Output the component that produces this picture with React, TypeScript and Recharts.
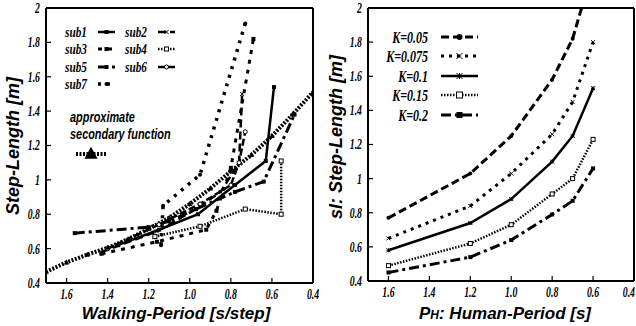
import React from "react";
import { LineChart, Line, XAxis, YAxis } from "recharts";

// Two gnuplot-style panels: step length vs. period, axis running right-to-left.

const PERIOD_TICKS = [1.6, 1.4, 1.2, 1.0, 0.8, 0.6, 0.4];
const LENGTH_TICKS = [0.4, 0.6, 0.8, 1.0, 1.2, 1.4, 1.6, 1.8, 2.0];

// left panel: measured subjects + fitted curve
const approxPeriod = [1.7, 1.6, 1.5, 1.4, 1.3, 1.2, 1.1, 1.0, 0.9, 0.8, 0.7, 0.6, 0.5, 0.4];
const approxLength = [0.465, 0.52, 0.565, 0.605, 0.655, 0.715, 0.78, 0.86, 0.95, 1.05, 1.145, 1.255, 1.38, 1.51];

const sub1Period = [1.35, 1.15, 0.96, 0.78, 0.63, 0.59];
const sub1Length = [0.62, 0.71, 0.8, 0.97, 1.11, 1.54];
const sub2Period = [1.43, 1.16, 0.97, 0.85, 0.76, 0.745];
const sub2Length = [0.58, 0.7, 0.83, 0.93, 1.1, 1.5];
const sub3Period = [1.43, 1.16, 0.92, 0.87, 0.8, 0.69];
const sub3Length = [0.57, 0.64, 0.71, 0.82, 1.07, 1.82];
const sub4Period = [1.17, 0.95, 0.73, 0.555, 0.555];
const sub4Length = [0.67, 0.73, 0.83, 0.8, 1.11];
const sub5Period = [1.56, 1.2, 1.1, 0.97, 0.78, 0.64, 0.49];
const sub5Length = [0.69, 0.725, 0.76, 0.83, 0.93, 0.99, 1.38];
const sub6Period = [1.4, 1.15, 0.95, 0.8, 0.76, 0.73];
const sub6Length = [0.6, 0.74, 0.86, 0.97, 1.1, 1.28];
const sub7Period = [1.14, 1.13, 0.95, 0.73];
const sub7Length = [0.62, 0.85, 1.03, 1.91];

// right panel: model for several K
const humanPeriod = [1.6, 1.2, 1.0, 0.8, 0.7, 0.6];
const k005Length = [0.77, 1.03, 1.25, 1.58, 1.82, 2.23];
const k0075Length = [0.65, 0.84, 1.03, 1.26, 1.45, 1.8];
const k01Length = [0.58, 0.74, 0.88, 1.1, 1.25, 1.53];
const k015Length = [0.49, 0.62, 0.73, 0.91, 1.0, 1.23];
const k02Length = [0.45, 0.54, 0.64, 0.79, 0.87, 1.06];

type MarkerKind = "square" | "openSquare" | "cross" | "plus" | "circle" | "dot" | "triangle" | "star";

type Series = {
  name: string;
  xs: number[];
  ys: number[];
  dash?: string;
  width: number;
  marker: MarkerKind;
  size?: number;
};

const zip = (xs: number[], ys: number[]) => xs.map((x, i) => ({ x, y: ys[i] }));

const LEFT_SERIES: Series[] = [
  { name: "sub1", xs: sub1Period, ys: sub1Length, width: 2.5, marker: "square" },
  { name: "sub2", xs: sub2Period, ys: sub2Length, dash: "8 4", width: 2.5, marker: "cross" },
  { name: "sub3", xs: sub3Period, ys: sub3Length, dash: "4 6", width: 3, marker: "square" },
  { name: "sub4", xs: sub4Period, ys: sub4Length, dash: "1.5 1.5", width: 2.5, marker: "openSquare" },
  { name: "sub5", xs: sub5Period, ys: sub5Length, dash: "10 4 3 4", width: 3, marker: "square" },
  { name: "sub6", xs: sub6Period, ys: sub6Length, dash: "7 3", width: 2.5, marker: "circle" },
  { name: "sub7", xs: sub7Period, ys: sub7Length, dash: "3 6", width: 3.5, marker: "dot" },
];

const APPROX: Series = {
  name: "approximate secondary function",
  xs: approxPeriod,
  ys: approxLength,
  dash: "2 1.5",
  width: 4,
  marker: "triangle",
  size: 2.5,
};

const RIGHT_SERIES: Series[] = [
  { name: "K=0.05", xs: humanPeriod, ys: k005Length, dash: "8 4", width: 3, marker: "dot" },
  { name: "K=0.075", xs: humanPeriod, ys: k0075Length, dash: "3 5", width: 3, marker: "cross" },
  { name: "K=0.1", xs: humanPeriod, ys: k01Length, width: 2.5, marker: "star" },
  { name: "K=0.15", xs: humanPeriod, ys: k015Length, dash: "1.5 1.5", width: 2.5, marker: "openSquare" },
  { name: "K=0.2", xs: humanPeriod, ys: k02Length, dash: "10 4 3 4", width: 3, marker: "square" },
];

function Marker({ kind, cx, cy, s = 2 }: { kind: MarkerKind; cx: number; cy: number; s?: number }) {
  const st = { stroke: "#000", strokeWidth: 1 };
  switch (kind) {
    case "square":
      return <rect x={cx - s} y={cy - s} width={s * 2} height={s * 2} fill="#000" />;
    case "openSquare":
      return <rect x={cx - s} y={cy - s} width={s * 2} height={s * 2} fill="#fff" {...st} />;
    case "circle":
      return <circle cx={cx} cy={cy} r={s} fill="#fff" {...st} />;
    case "dot":
      return <circle cx={cx} cy={cy} r={s} fill="#000" />;
    case "cross":
      return <path d={`M${cx - s},${cy - s}L${cx + s},${cy + s}M${cx - s},${cy + s}L${cx + s},${cy - s}`} {...st} />;
    case "plus":
      return <path d={`M${cx - s},${cy}L${cx + s},${cy}M${cx},${cy - s}L${cx},${cy + s}`} {...st} />;
    case "star":
      return (
        <path
          d={`M${cx - s},${cy}L${cx + s},${cy}M${cx},${cy - s}L${cx},${cy + s}M${cx - s},${cy - s}L${cx + s},${cy + s}M${cx - s},${cy + s}L${cx + s},${cy - s}`}
          {...st}
        />
      );
    case "triangle":
      return <path d={`M${cx},${cy - s * 1.2}L${cx + s * 1.1},${cy + s * 0.8}L${cx - s * 1.1},${cy + s * 0.8}Z`} fill="#000" />;
  }
  return null;
}

const fmtPeriod = (v: number) => v.toFixed(1);
const fmtLength = (v: number) => (Number.isInteger(Math.round(v * 100) / 100) ? String(Math.round(v)) : v.toFixed(1));

// Labels in narrow Times bold italic, squeezed horizontally like the original.
function NarrowTick(props: any) {
  const { x, y, payload, textAnchor, fmt, vertical, maxX } = props;
  // keep the last label inside the picture
  const anchor = maxX !== undefined && x + 7 > maxX ? "end" : textAnchor;
  const tx = anchor !== textAnchor ? maxX - 1 : x;
  return (
    <text
      transform={`translate(${tx},${y}) scale(0.7,1)`}
      textAnchor={anchor}
      dy={vertical ? "0.35em" : "0.75em"}
      fontFamily="Liberation Serif"
      fontStyle="italic"
      fontWeight="bold"
      fontSize={14}
      fill="#000"
    >
      {fmt(payload.value)}
    </text>
  );
}

const AXIS_LINE = { stroke: "#000", strokeWidth: 2 };
const TICK_LINE = { stroke: "#000", strokeWidth: 1.2 };

function renderLine(s: Series) {
  return (
    <Line
      key={s.name}
      data={zip(s.xs, s.ys)}
      dataKey="y"
      xAxisId="b"
      yAxisId="l"
      type="linear"
      stroke="#000"
      strokeWidth={s.width}
      strokeDasharray={s.dash}
      strokeLinecap="butt"
      dot={(p: any) => (
        <g key={`${s.name}-${p.index}`}>
          <Marker kind={s.marker} cx={p.cx} cy={p.cy} s={s.size ?? 2} />
        </g>
      )}
      activeDot={false}
      isAnimationActive={false}
    />
  );
}

function Panel({ series, width, yWidth, marginRight, xHeight }: {
  series: Series[];
  width: number;
  yWidth: number;
  marginRight: number;
  xHeight: number;
}) {
  return (
    <LineChart width={width} height={326} margin={{ top: 7, right: marginRight, bottom: 0, left: 0 }}>
      <XAxis
        xAxisId="b"
        type="number"
        dataKey="x"
        domain={[0.4, 1.7]}
        reversed
        ticks={PERIOD_TICKS}
        allowDataOverflow
        height={xHeight}
        axisLine={AXIS_LINE}
        tickLine={TICK_LINE}
        tickSize={-5}
        tickMargin={10}
        interval={0}
        tick={(p: any) => <NarrowTick {...p} fmt={fmtPeriod} maxX={width} />}
      />
      <XAxis
        xAxisId="t"
        orientation="top"
        type="number"
        domain={[0.4, 1.7]}
        reversed
        ticks={PERIOD_TICKS}
        allowDataOverflow
        height={1}
        axisLine={AXIS_LINE}
        tickLine={TICK_LINE}
        tickSize={-5}
        interval={0}
        tick={false}
      />
      <YAxis
        yAxisId="l"
        type="number"
        domain={[0.4, 2]}
        ticks={LENGTH_TICKS}
        allowDataOverflow
        width={yWidth}
        axisLine={AXIS_LINE}
        tickLine={TICK_LINE}
        tickSize={-5}
        tickMargin={11}
        interval={0}
        tick={(p: any) => <NarrowTick {...p} fmt={fmtLength} vertical />}
      />
      <YAxis
        yAxisId="r"
        orientation="right"
        type="number"
        domain={[0.4, 2]}
        ticks={LENGTH_TICKS}
        allowDataOverflow
        width={1}
        axisLine={AXIS_LINE}
        tickLine={TICK_LINE}
        tickSize={-5}
        interval={0}
        tick={false}
      />
      {series.map(renderLine)}
    </LineChart>
  );
}

function LegendSample({ s, x1, x2, y, markerSize }: { s: Series; x1: number; x2: number; y: number; markerSize?: number }) {
  return (
    <g>
      <line x1={x1} x2={x2} y1={y} y2={y} stroke="#000" strokeWidth={s.width} strokeDasharray={s.dash} />
      <Marker kind={s.marker} cx={(x1 + x2) / 2} cy={y} s={markerSize ?? 2} />
    </g>
  );
}

function SerifLabel({ x, y, text, anchor = "start", size = 15 }: { x: number; y: number; text: string; anchor?: string; size?: number }) {
  return (
    <text
      transform={`translate(${x},${y}) scale(0.75,1)`}
      textAnchor={anchor}
      dy="0.35em"
      fontFamily="Liberation Serif"
      fontStyle="italic"
      fontWeight="bold"
      fontSize={size}
      fill="#000"
    >
      {text}
    </text>
  );
}

const TITLE_FONT = { fontFamily: "Liberation Sans", fontStyle: "italic", fontWeight: "bold", fill: "#000" } as const;

function Overlay() {
  const leftCols = [
    [0, 2, 4, 6],
    [1, 3, 5],
  ];
  const rowY = [32, 49, 67, 84];
  const rightRows = [37, 56, 76, 95, 115];
  return (
    <svg width={636} height={326} style={{ position: "absolute", left: 0, top: 0, pointerEvents: "none" }}>
      {leftCols.map((col, ci) =>
        col.map((idx, ri) => {
          const s = LEFT_SERIES[idx];
          const tx = ci === 0 ? 65 : 125;
          return (
            <g key={s.name}>
              <SerifLabel x={tx} y={rowY[ri]} text={s.name} size={15} />
              <LegendSample s={s} x1={tx + 33} x2={tx + 50} y={rowY[ri]} />
            </g>
          );
        })
      )}
      <text transform="translate(70,122) scale(0.78,1)" {...TITLE_FONT} fontSize={14}>
        approximate
      </text>
      <text transform="translate(70,139) scale(0.78,1)" {...TITLE_FONT} fontSize={14}>
        secondary function
      </text>
      <LegendSample s={APPROX} x1={76} x2={106} y={154} markerSize={6} />

      {RIGHT_SERIES.map((s, i) => (
        <g key={s.name}>
          <SerifLabel x={428} y={rightRows[i]} text={s.name} anchor="end" size={16} />
          <LegendSample s={s} x1={441} x2={478} y={rightRows[i]} markerSize={3} />
        </g>
      ))}

      <text x={176} y={319} textAnchor="middle" fontSize={17} {...TITLE_FONT}>
        Walking-Period [s/step]
      </text>
      <text transform="translate(19,146) rotate(-90)" textAnchor="middle" fontSize={18} {...TITLE_FONT}>
        Step-Length [m]
      </text>
      <text x={505} y={319} textAnchor="middle" fontSize={17} {...TITLE_FONT}>
        P<tspan fontSize={12}>H</tspan>: Human-Period [s]
      </text>
      <text transform="translate(342,137) rotate(-90)" textAnchor="middle" fontSize={18} {...TITLE_FONT}>
        sl: Step-Length [m]
      </text>
    </svg>
  );
}

export default function App() {
  return (
    <div style={{ position: "absolute", left: 0, top: 0, width: 636, height: 326, background: "#fff", overflow: "hidden" }}>
      <div style={{ position: "absolute", left: 0, top: 0 }}>
        <Panel series={[...LEFT_SERIES, APPROX]} width={320} yWidth={46} marginRight={6} xHeight={43} />
      </div>
      <div style={{ position: "absolute", left: 318, top: 0 }}>
        <Panel series={RIGHT_SERIES} width={318} yWidth={50} marginRight={1} xHeight={45} />
      </div>
      <Overlay />
    </div>
  );
}
